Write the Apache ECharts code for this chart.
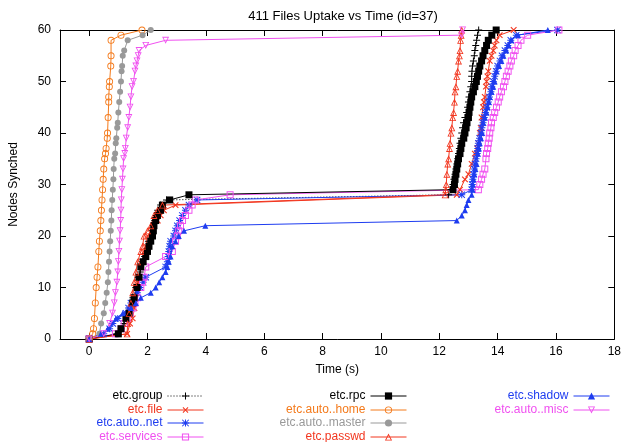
<!DOCTYPE html>
<html>
<head>
<meta charset="utf-8">
<script src="https://cdn.jsdelivr.net/npm/echarts@6/dist/echarts.min.js"></script>
<style>
  html, body { margin: 0; padding: 0; background: #fff; }
  #chart { width: 624px; height: 442px; }
</style>
</head>
<body>
<div id="chart"></div>
<script>
  // [time (s), nodes synched] per file
  const etcGroup = [[0,0],[0.95,1],[1.1,2],[1.2,3],[1.3,5],[1.4,6],[1.5,8],[1.6,10],[1.68,12],[1.75,13],[1.82,15],[1.9,16],[1.97,17],[2.03,19],[2.1,20],[2.15,21],[2.2,22],[2.25,23],[2.3,24],[2.35,25],[2.45,26],[2.65,27],[12.32,28],[12.4,29],[12.47,30],[12.5,31],[12.54,32],[12.57,33],[12.6,34],[12.63,35],[12.66,36],[12.69,37],[12.71,38],[12.74,39],[12.77,40],[12.8,41],[12.83,42],[12.88,43],[12.94,44],[12.97,45],[13.0,46],[13.02,47],[13.05,48],[13.08,49],[13.11,50],[13.11,51],[13.12,52],[13.14,53],[13.17,54],[13.2,55],[13.22,56],[13.25,57],[13.28,58],[13.31,59],[13.35,60]]
  const etcFile = [[0,0],[1.3,1],[1.4,3],[1.49,4],[1.55,6],[1.6,8],[1.66,11],[1.72,12],[1.77,14],[1.82,15],[1.88,17],[1.94,18],[2.0,20],[2.22,22],[2.35,23],[2.45,24],[2.56,25],[2.96,26],[12.6,28],[12.71,29],[12.88,31],[13.0,32],[13.11,34],[13.22,36],[13.3,37],[13.34,38],[13.39,40],[13.42,41],[13.45,43],[13.5,45],[13.53,46],[13.56,47],[13.6,49],[13.62,50],[13.65,51],[13.68,52],[13.73,54],[13.79,55],[13.85,56],[13.9,57],[13.96,58],[14.07,59],[14.55,60]]
  const etcAutoNet = [[0,0],[0.5,1],[0.7,2],[0.81,3],[0.98,4],[1.26,5],[1.35,6],[1.43,7],[1.55,8],[1.65,9],[1.75,10],[1.85,11],[1.94,12],[2.62,14],[2.68,15],[2.71,16],[2.73,17],[2.76,18],[2.79,19],[2.9,20],[2.96,21],[3.02,22],[3.1,23],[3.19,24],[3.3,25],[3.42,26],[3.7,27],[12.77,28],[13.11,29],[13.13,30],[13.15,31],[13.18,32],[13.2,33],[13.22,34],[13.26,35],[13.3,36],[13.32,37],[13.34,38],[13.38,39],[13.43,40],[13.46,41],[13.5,42],[13.54,43],[13.58,44],[13.63,45],[13.68,46],[13.72,47],[13.77,48],[13.8,49],[13.85,50],[13.9,51],[13.95,52],[14.0,53],[14.08,54],[14.15,55],[14.25,56],[14.35,57],[14.45,58],[14.64,59],[16.05,60]]
  const etcServices = [[0,0],[0.9,1],[1.1,2],[1.2,3],[1.3,4],[1.4,5],[1.5,6],[1.57,7],[1.66,8],[1.77,10],[1.83,11],[1.88,12],[1.94,14],[2.62,16],[2.85,17],[2.96,19],[3.02,20],[3.07,21],[3.13,22],[3.2,23],[3.3,24],[3.42,25],[3.53,26],[3.64,27],[4.83,28],[13.34,29],[13.39,30],[13.45,31],[13.5,32],[13.56,33],[13.6,35],[13.62,36],[13.66,37],[13.68,38],[13.71,39],[13.73,40],[13.77,41],[13.79,42],[13.85,43],[13.9,44],[13.96,45],[14.02,46],[14.07,47],[14.13,48],[14.2,49],[14.25,50],[14.3,51],[14.36,52],[14.42,53],[14.47,54],[14.55,55],[14.6,56],[14.7,57],[14.8,58],[15.03,59],[16.1,60]]
  const etcRpc = [[0,0],[1.0,1],[1.09,2],[1.26,4],[1.37,5],[1.49,7],[1.54,8],[1.64,10],[1.71,12],[1.77,14],[1.85,15],[1.94,16],[2.0,17],[2.05,18],[2.11,19],[2.17,20],[2.2,21],[2.22,22],[2.28,23],[2.34,24],[2.45,25],[2.51,26],[2.76,27],[3.42,28],[12.47,29],[12.52,30],[12.54,31],[12.57,32],[12.6,33],[12.63,34],[12.66,35],[12.71,36],[12.74,37],[12.77,38],[12.84,39],[12.88,40],[12.92,41],[12.95,42],[13.0,43],[13.02,44],[13.05,45],[13.08,46],[13.11,47],[13.17,48],[13.22,49],[13.27,50],[13.31,51],[13.35,52],[13.39,53],[13.45,54],[13.5,55],[13.56,56],[13.62,57],[13.68,58],[13.8,59],[13.95,60]]
  const etcAutoHome = [[0,0],[0.12,1],[0.15,2],[0.18,4],[0.21,7],[0.24,10],[0.27,12],[0.3,14],[0.33,17],[0.35,19],[0.38,21],[0.4,23],[0.42,25],[0.44,27],[0.46,29],[0.48,31],[0.5,33],[0.53,35],[0.56,36],[0.58,37],[0.62,39],[0.63,40],[0.65,43],[0.67,46],[0.67,47],[0.69,49],[0.7,50],[0.74,53],[0.75,55],[0.75,58],[1.09,59],[1.81,60]]
  const etcAutoMaster = [[0,0],[0.35,1],[0.41,3],[0.5,5],[0.55,7],[0.6,9],[0.64,11],[0.66,13],[0.68,15],[0.7,17],[0.72,19],[0.74,21],[0.76,23],[0.77,25],[0.79,27],[0.81,29],[0.83,31],[0.84,33],[0.86,35],[0.89,36],[0.91,38],[0.93,39],[0.96,41],[0.98,42],[1.0,44],[1.03,46],[1.06,48],[1.09,50],[1.11,52],[1.13,53],[1.15,55],[1.2,56],[1.32,58],[1.83,59],[2.11,60]]
  const etcPasswd = [[0,0],[1.3,1],[1.32,3],[1.37,5],[1.43,7],[1.49,9],[1.54,11],[1.6,13],[1.66,15],[1.77,17],[1.83,18],[1.88,20],[2.0,21],[2.11,22],[2.22,24],[2.34,25],[2.51,26],[12.2,28],[12.22,29],[12.24,30],[12.26,32],[12.29,34],[12.32,35],[12.35,37],[12.37,38],[12.4,40],[12.43,41],[12.46,43],[12.49,44],[12.52,46],[12.54,48],[12.57,49],[12.6,51],[12.63,52],[12.66,54],[12.69,55],[12.71,56],[12.73,58],[12.75,59],[12.77,60]]
  const etcShadow = [[0,0],[0.4,1],[0.64,2],[0.92,4],[1.15,5],[1.43,6],[1.6,7],[1.77,8],[2.11,9],[2.28,10],[2.4,11],[2.51,12],[2.62,13],[2.68,14],[2.73,15],[2.79,16],[2.85,18],[2.96,19],[3.07,20],[3.25,21],[3.98,22],[12.6,23],[12.77,24],[12.88,25],[12.94,26],[13.0,27],[13.11,28],[13.14,29],[13.15,30],[13.17,31],[13.2,32],[13.24,33],[13.28,34],[13.32,36],[13.36,37],[13.39,38],[13.43,39],[13.47,40],[13.5,42],[13.56,43],[13.62,44],[13.66,45],[13.7,46],[13.73,47],[13.79,48],[13.85,49],[13.9,50],[13.96,52],[14.05,53],[14.13,54],[14.2,55],[14.3,56],[14.38,57],[14.47,58],[14.7,59],[15.72,60]]
  const etcAutoMisc = [[0,0],[0.5,1],[0.7,3],[0.8,5],[0.86,7],[0.9,9],[0.95,11],[0.98,13],[1.0,15],[1.02,17],[1.04,19],[1.06,21],[1.08,23],[1.09,25],[1.1,27],[1.12,29],[1.14,31],[1.16,33],[1.18,35],[1.22,36],[1.24,37],[1.27,39],[1.32,41],[1.36,43],[1.4,45],[1.43,47],[1.47,49],[1.52,50],[1.57,52],[1.6,53],[1.64,54],[1.68,55],[1.71,56],[1.94,57],[2.62,58],[12.77,59],[12.8,60]]

  const seriesNames = ['etc.group', 'etc.file', 'etc.auto..net', 'etc.services', 'etc.rpc',
    'etc.auto..home', 'etc.auto..master', 'etc.passwd', 'etc.shadow', 'etc.auto..misc']
  const seriesData = [etcGroup, etcFile, etcAutoNet, etcServices, etcRpc,
    etcAutoHome, etcAutoMaster, etcPasswd, etcShadow, etcAutoMisc]

  const RED = '#f2361f', ORANGE = '#f47a1b', BLUE = '#1e3cf0', MAGENTA = '#f050f0', GRAY = '#999999'

  // gnuplot-like point types (outline shapes are drawn with holes so they stay see-through)
  const PLUS = 'path://M4.3,0H5.7V10H4.3ZM0,4.3H10V5.7H0Z'
  const STAR = PLUS + 'M0,1L1,0L10,9L9,10ZM9,0L10,1L1,10L0,9Z'
  const RING = 'path://M5,0A5,5 0 1,1 5,10A5,5 0 1,1 5,0ZM5,1.3A3.7,3.7 0 1,0 5,8.7A3.7,3.7 0 1,0 5,1.3Z'
  const BOX = 'path://M0,0H10V10H0ZM1.4,1.4V8.6H8.6V1.4Z'
  const TRI_UP = 'path://M5,0L10,9H0ZM5,2.6L1.9,7.9H8.1Z'
  const TRI_DOWN = 'path://M0,0H10L5,9ZM1.9,1.1L5,6.4L8.1,1.1Z'

  const styles = [
    { color: '#000', symbol: PLUS, size: 7, dash: [1, 2] },
    { color: RED, symbol: PLUS, size: 8, rotate: 45 },
    { color: BLUE, symbol: STAR, size: 7 },
    { color: MAGENTA, symbol: BOX, size: 7 },
    { color: '#000', symbol: 'rect', size: 7 },
    { color: ORANGE, symbol: RING, size: 7 },
    { color: GRAY, symbol: 'circle', size: 6 },
    { color: RED, symbol: TRI_UP, size: 7 },
    { color: BLUE, symbol: 'triangle', size: 6 },
    { color: MAGENTA, symbol: TRI_DOWN, size: 7 }
  ]

  const FONT = '"Liberation Sans", Arial, Helvetica, sans-serif'

  const series = seriesNames.map((name, i) => ({
    name: name,
    type: 'line',
    data: seriesData[i],
    symbol: styles[i].symbol,
    symbolSize: styles[i].size,
    symbolRotate: styles[i].rotate || 0,
    lineStyle: { color: styles[i].color, width: 1, type: styles[i].dash || 'solid' },
    itemStyle: { color: styles[i].color },
    emphasis: { disabled: true },
    animation: false
  }))

  // legend laid out like gnuplot's key: label, then sample on its right
  const colRight = [420, 217, 14]
  const rowTop = [390, 404, 417, 431]
  const legend = seriesNames.map((name, i) => ({
    data: [name],
    orient: 'vertical',
    align: 'right',
    right: colRight[Math.floor(i / 4)],
    top: rowTop[i % 4],
    padding: 0,
    itemWidth: 36,
    itemHeight: 9,
    selectedMode: false,
    lineStyle: { width: 1, type: styles[i].dash || 'solid' },
    textStyle: { color: styles[i].color, fontSize: 12, fontFamily: FONT }
  }))

  const xBase = {
    type: 'value',
    min: -1,
    max: 18,
    minInterval: 2,
    maxInterval: 2,
    axisLine: { show: true, onZero: false, lineStyle: { color: '#000', width: 1 } },
    axisTick: { show: true, inside: true, length: 6, lineStyle: { color: '#000' } },
    splitLine: { show: false }
  }
  const yBase = {
    type: 'value',
    min: 0,
    max: 60,
    interval: 10,
    axisLine: { show: true, onZero: false, lineStyle: { color: '#000', width: 1 } },
    axisTick: { show: true, inside: true, length: 6, lineStyle: { color: '#000' } },
    splitLine: { show: false }
  }

  const option = {
    backgroundColor: '#fff',
    animation: false,
    textStyle: { fontFamily: FONT },
    title: {
      text: '411 Files Uptake vs Time (id=37)',
      left: 338,
      textAlign: 'center',
      top: 5,
      textStyle: { fontSize: 13, fontWeight: 'normal', color: '#000', fontFamily: FONT }
    },
    grid: { left: 58, right: 7, top: 30, bottom: 103 },
    legend: legend,
    xAxis: [
      Object.assign({}, xBase, {
        position: 'bottom',
        name: 'Time (s)',
        nameLocation: 'middle',
        nameGap: 25,
        nameTextStyle: { fontSize: 12, color: '#000', fontFamily: FONT },
        axisLabel: {
          margin: 7,
          fontSize: 12,
          color: '#000',
          fontFamily: FONT,
          formatter: v => (v < 0 ? '' : String(v))
        }
      }),
      Object.assign({}, xBase, { position: 'top', axisLabel: { show: false } })
    ],
    yAxis: [
      Object.assign({}, yBase, {
        position: 'left',
        name: 'Nodes Synched',
        nameLocation: 'middle',
        nameGap: 40,
        nameTextStyle: { fontSize: 12, color: '#000', fontFamily: FONT },
        axisLabel: { margin: 9, fontSize: 12, color: '#000', fontFamily: FONT }
      }),
      Object.assign({}, yBase, { position: 'right', axisLabel: { show: false } })
    ],
    series: series
  }

  const chart = echarts.init(document.getElementById('chart'), null, { renderer: 'canvas' })
  chart.setOption(option)
</script>
</body>
</html>
